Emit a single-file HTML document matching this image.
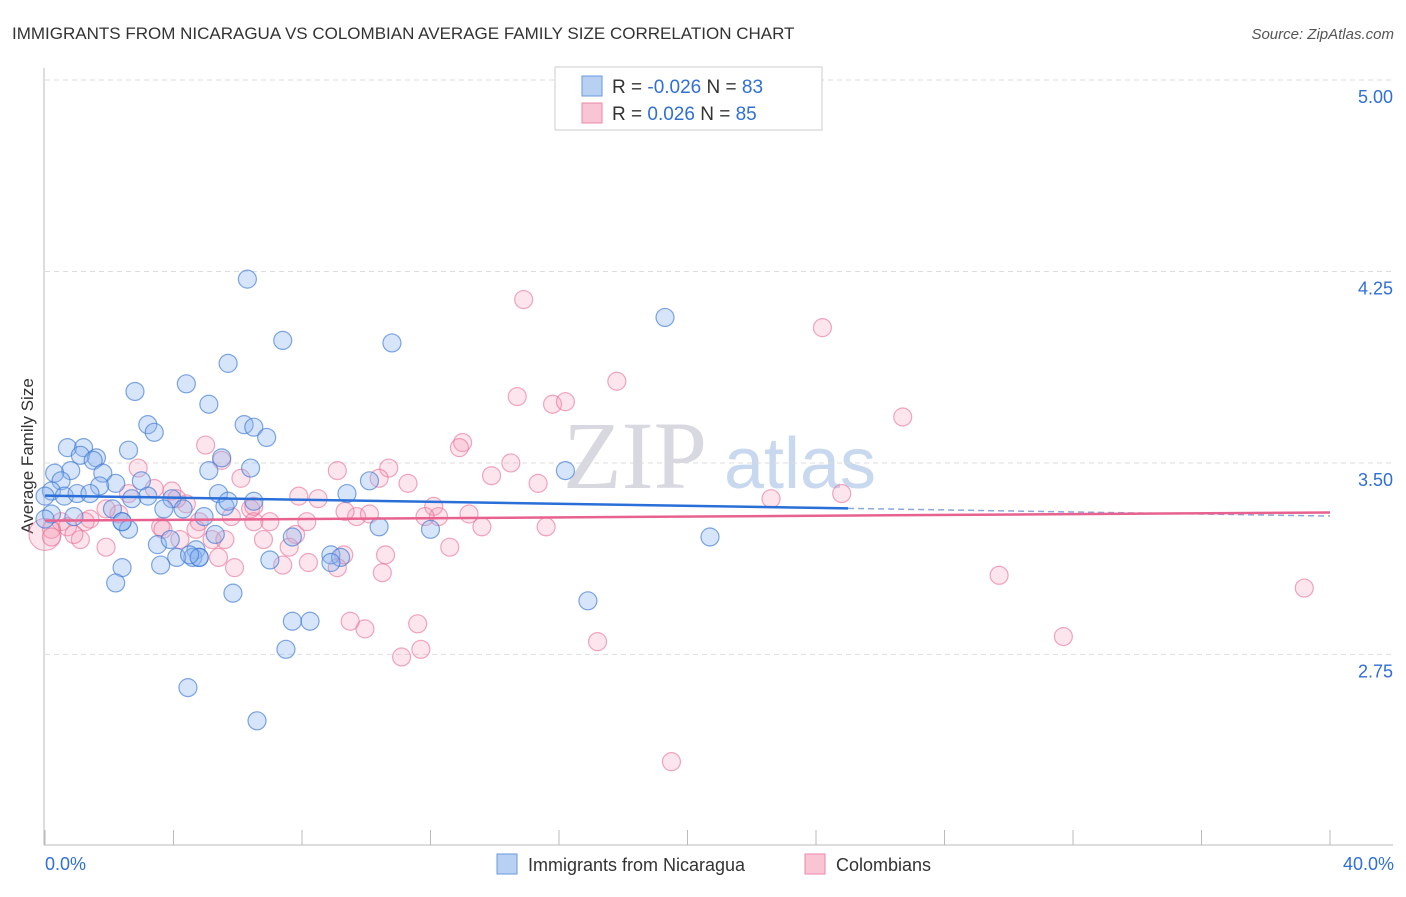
<!DOCTYPE html>
<html><head><meta charset="utf-8"><style>
body{margin:0;background:#fff;font-family:"Liberation Sans",sans-serif;}
</style></head><body>
<svg width="1406" height="892" xmlns="http://www.w3.org/2000/svg" id="chart">
<text x="12" y="39" font-size="17" fill="#333">IMMIGRANTS FROM NICARAGUA VS COLOMBIAN AVERAGE FAMILY SIZE CORRELATION CHART</text>
<text x="1394" y="39" font-size="15" fill="#555" font-style="italic" text-anchor="end">Source: ZipAtlas.com</text>
<text x="33" y="456" font-size="17" fill="#333" text-anchor="middle" transform="rotate(-90 33 456)">Average Family Size</text>
<text x="635" y="488" font-size="96" fill="#d8d8e0" font-family="Liberation Serif,serif" text-anchor="middle">ZIP</text>
<text x="800" y="488" font-size="72" fill="#c8d8ef" text-anchor="middle">atlas</text>
<g id="grid"></g><g id="axes"></g><g id="pts"></g><g id="lines"></g>
<g>
<rect x="555" y="67" width="267" height="63" fill="#fff" stroke="#ccc"/>
<rect x="582" y="76" width="20" height="20" fill="#b8d0f2" stroke="#6a9ae0"/>
<rect x="582" y="103" width="20" height="20" fill="#f9c4d4" stroke="#e88aa8"/>
<text x="612" y="93" font-size="19" fill="#333">R = <tspan fill="#2f6fd6">-0.026</tspan>   N = <tspan fill="#2f6fd6">83</tspan></text>
<text x="612" y="120" font-size="19" fill="#333">R =  <tspan fill="#2f6fd6"> 0.026</tspan>   N = <tspan fill="#2f6fd6">85</tspan></text>
</g>
<g>
<rect x="497" y="854" width="20" height="20" fill="#b8d0f2" stroke="#6a9ae0"/>
<text x="528" y="871" font-size="18" fill="#333">Immigrants from Nicaragua</text>
<rect x="805" y="854" width="20" height="20" fill="#f9c4d4" stroke="#e88aa8"/>
<text x="836" y="871" font-size="18" fill="#333">Colombians</text>
</g>
<text x="45" y="870" font-size="18" fill="#2f6fd6">0.0%</text>
<text x="1394" y="870" font-size="18" fill="#2f6fd6" text-anchor="end">40.0%</text>
</svg>
<script>
const yTicks=[5.00,4.25,3.50,2.75];
const blueX=[6.3,7.4,10.8,19.3,2.8,4.4,5.7,5.1,3.2,3.4,6.2,6.5,6.9,0.7,1.2,2.6,1.6,1.1,1.5,5.5,6.4,5.1,0.8,0.3,0.5,1.8,2.2,1.7,3.0,16.2,10.1,0.2,0.6,1.0,1.4,2.7,3.95,3.2,5.4,9.4,6.5,5.6,5.7,3.7,4.3,2.1,0.2,0.9,2.4,2.6,4.95,2.4,3.5,3.9,5.3,7.7,10.4,12.0,20.7,4.7,4.6,4.8,7.0,8.9,9.2,8.9,3.6,4.1,2.4,2.2,5.85,16.9,7.7,8.25,7.5,4.45,6.6,0,0,4.8,4.5];
const blueY=[4.22,3.98,3.97,4.07,3.78,3.81,3.89,3.73,3.65,3.62,3.65,3.64,3.60,3.56,3.56,3.55,3.52,3.53,3.51,3.52,3.48,3.47,3.47,3.46,3.43,3.46,3.42,3.41,3.43,3.47,3.43,3.39,3.37,3.38,3.38,3.36,3.36,3.37,3.38,3.38,3.35,3.33,3.35,3.32,3.32,3.32,3.30,3.29,3.27,3.24,3.29,3.27,3.18,3.20,3.22,3.21,3.25,3.24,3.21,3.16,3.13,3.13,3.12,3.14,3.13,3.11,3.10,3.13,3.09,3.03,2.99,2.96,2.88,2.88,2.77,2.62,2.49,3.37,3.28,3.13,3.14];
const pinkX=[14.9,24.2,17.8,14.7,15.8,16.2,26.7,5.0,13.0,12.9,14.5,2.9,5.5,9.1,10.7,10.4,13.9,11.3,15.35,3.4,3.95,7.9,8.5,2.6,4.4,24.8,22.6,12.1,12.25,13.2,9.7,10.1,6.4,6.5,7.0,4.8,6.5,5.8,2.3,1.4,0.5,0.7,0.2,0,1.1,1.9,5.2,5.6,4.2,6.8,7.8,7.6,9.3,8.2,9.1,10.6,7.4,5.9,5.4,12.6,13.6,15.6,1.25,6.1,1.9,3.6,0.9,29.7,10.5,39.2,9.96,9.5,11.6,11.7,11.1,17.2,31.7,19.5,8.15,3.67,4.1,9.34,11.83,0.2,4.7];
const pinkY=[4.14,4.03,3.82,3.76,3.73,3.74,3.68,3.57,3.58,3.56,3.50,3.48,3.51,3.47,3.48,3.44,3.45,3.42,3.42,3.40,3.39,3.37,3.36,3.38,3.34,3.38,3.36,3.33,3.29,3.30,3.29,3.30,3.32,3.33,3.27,3.27,3.27,3.29,3.30,3.28,3.27,3.25,3.24,3.22,3.20,3.17,3.20,3.20,3.20,3.20,3.22,3.17,3.14,3.11,3.09,3.14,3.10,3.09,3.13,3.17,3.25,3.25,3.27,3.44,3.32,3.25,3.22,3.06,3.07,3.01,2.85,2.88,2.87,2.77,2.74,2.80,2.82,2.33,3.27,3.24,3.36,3.31,3.29,3.21,3.24];
const x0=45,pxPerPct=32.125,y0=80,pxPerUnit=255.3;
function sx(v){return x0+v*pxPerPct;}
function sy(v){return y0+(5-v)*pxPerUnit;}
const NS="http://www.w3.org/2000/svg";
function mk(tag,attrs,parent){const e=document.createElementNS(NS,tag);for(const k in attrs)e.setAttribute(k,attrs[k]);document.getElementById(parent).appendChild(e);return e;}
yTicks.forEach(t=>{
  const g=mk('line',{x1:45,x2:1393,y1:sy(t),y2:sy(t),stroke:'#ddd','stroke-dasharray':'5,4'},'grid');
  
  
  const l=mk('text',{x:1393,y:sy(t)+23,'font-size':18,fill:'#2f6fd6','text-anchor':'end'},'grid');
  l.textContent=t.toFixed(2);
  
  
});
const ya=mk('line',{x1:44,x2:44,y1:68,y2:845,stroke:'#bbb'},'axes');


const xa=mk('line',{x1:44,x2:1393,y1:845,y2:845,stroke:'#bbb'},'axes');


for(let i=0;i<=10;i++){
  const t=mk('line',{x1:sx(i*4),x2:sx(i*4),y1:830,y2:845,stroke:'#bbb'},'axes');
  
  
}
pinkX.forEach((x,i)=>{
  const c=mk('circle',{cx:sx(x),cy:sy(pinkY[i]),r:(x===0?16:9),fill:'rgba(244,150,180,0.25)',stroke:'rgba(232,110,150,0.6)','stroke-width':1.2},'pts');
  
  
});
blueX.forEach((x,i)=>{
  const c=mk('circle',{cx:sx(x),cy:sy(blueY[i]),r:9,fill:'rgba(140,180,240,0.35)',stroke:'rgba(60,120,210,0.65)','stroke-width':1.2},'pts');
  
  
});
const b1=mk('line',{x1:sx(0),y1:sy(3.372),x2:sx(25),y2:sy(3.322),stroke:'#2a6fd8','stroke-width':2.5},'lines');


const b2=mk('line',{x1:sx(25),y1:sy(3.322),x2:sx(40),y2:sy(3.292),stroke:'#8aa8d8','stroke-width':1.5,'stroke-dasharray':'6,4'},'lines');


const p1=mk('line',{x1:sx(0),y1:sy(3.274),x2:sx(40),y2:sy(3.306),stroke:'#e8628f','stroke-width':2.5},'lines');


</script>
</body></html>
